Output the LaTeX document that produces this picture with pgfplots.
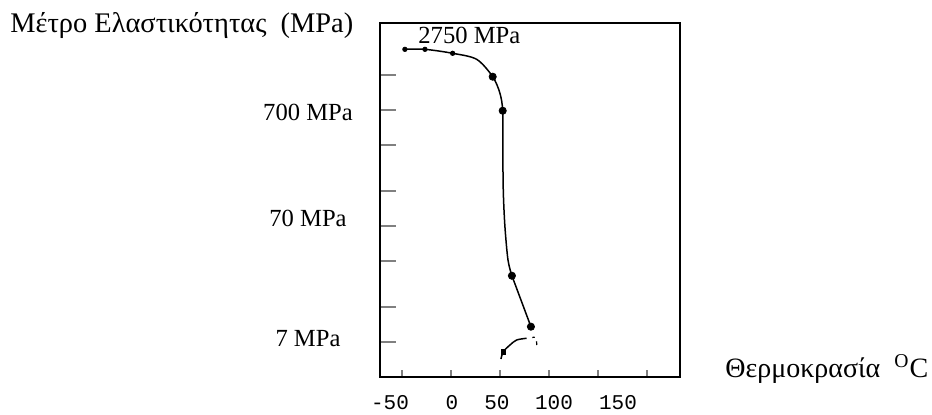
\documentclass[border=0pt]{standalone}
\usepackage{fontspec}
\setmainfont{Liberation Serif}
\setmonofont{Liberation Mono}
\usepackage{pgfplots}
\pgfplotsset{compat=1.18}
\begin{document}
\fontsize{12.3pt}{14pt}\selectfont
\begin{tikzpicture}
\useasboundingbox (-190pt,-19pt) rectangle (276pt,188.5pt);
\begin{axis}[
  scale only axis, width=150pt, height=177pt,
  at={(0,0)}, anchor=south west,
  xmin=-72.4, xmax=233.7,
  ymode=log, ymin=3.445, ymax=3880,
  axis line style={line width=0.75pt},
  xtick pos=bottom, ytick pos=left,
  tick align=inside,
  xtick={-50,0,50,100,150,200},
  xticklabels={},
  xtick style={line width=0.8pt, /pgfplots/major tick length=3.5pt},
  ytick={6.9,13.8,34.5,69,138,345,690,1380},
  yticklabels={},
  ytick style={line width=0.8pt, /pgfplots/major tick length=8pt},
  minor tick num=0,
  extra x ticks={-62.2,1,46.9,105.1,170.4},
  extra x tick labels={-50,0,50,100,150},
  extra x tick style={tick style={draw=none}},
  xticklabel style={font=\ttfamily\fontsize{10.5pt}{12pt}\selectfont, anchor=center, yshift=-13pt},
  extra y ticks={7.32,80.9,663},
  extra y tick labels={7 MPa,70 MPa,700 MPa},
  extra y tick style={tick style={draw=none}},
  yticklabel style={anchor=center, xshift=-36pt},
]
\addplot[smooth, tension=0.5, line width=0.75pt] coordinates {(-47,2300)(-26.5,2300)(1.7,2126)(26.2,1887)(42.6,1336)(50,961)(52.8,680)(52.9,344)(53.4,138)(55.1,67.6)(58.2,35.1)(62.2,25.7)};
\addplot[line width=0.75pt] coordinates {(62.2,25.7)(81.6,9.35)};
\addplot[smooth, line width=0.75pt] coordinates {(51,4.92)(53.4,5.69)(60.2,6.5)(67,7.18)(77.2,7.43)};
\addplot[line width=0.6pt] coordinates {(83,7.55)(85.5,7.6)};
\addplot[line width=0.6pt] coordinates {(87.3,7.0)(87.6,6.5)};
\addplot[only marks, mark=*, mark size=1.8pt] coordinates {(42.6,1336)(52.8,680)(62.2,25.7)(81.6,9.35)};
\addplot[only marks, mark=*, mark size=1.1pt] coordinates {(-47,2300)(-26.5,2300)(1.7,2126)};
\addplot[only marks, mark=square*, mark size=1.1pt] coordinates {(53.4,5.69)};
\end{axis}
\draw[line width=1.3pt] (0pt,0pt) -- (150pt,0pt) -- (150pt,177pt);
\node[anchor=base west, inner sep=0pt] at (19pt,166.5pt) {2750 MPa};
\node[anchor=base west, inner sep=0pt, font=\fontsize{14.2pt}{16pt}\selectfont] at (-185pt,172pt) {Μέτρο Ελαστικότητας\ \ (MPa)};
\node[anchor=base west, inner sep=0pt, font=\fontsize{14pt}{16pt}\selectfont] at (172.5pt,-0.5pt) {Θερμοκρασία\ \ \textsuperscript{O}C};
\end{tikzpicture}
\end{document}
